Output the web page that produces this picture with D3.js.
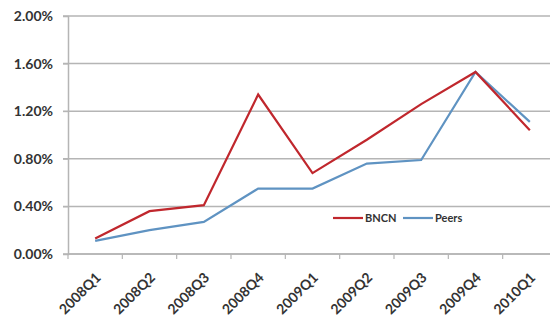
<!DOCTYPE html>
<html>
<head>
<meta charset="utf-8">
<script src="https://cdn.jsdelivr.net/npm/d3@7/dist/d3.min.js"></script>
<style>
  html, body { margin: 0; padding: 0; background: #fff; }
  svg { display: block; }
  text { font-family: Lato, "Open Sans", sans-serif; font-weight: bold; fill: #333; }
</style>
</head>
<body>
<svg id="chart" width="550" height="331"></svg>
<script>
// Quarterly ratios (%) for BNCN and its peer group
const quarters = ["2008Q1","2008Q2","2008Q3","2008Q4","2009Q1","2009Q2","2009Q3","2009Q4","2010Q1"];
const bncn  = [0.13, 0.36, 0.41, 1.34, 0.68, 0.96, 1.26, 1.53, 1.04];
const peers = [0.11, 0.20, 0.27, 0.55, 0.55, 0.76, 0.79, 1.53, 1.11];
const yTicks = [0, 0.4, 0.8, 1.2, 1.6, 2.0];

const svg = d3.select("#chart");
const plot = { left: 68, top: 16, bottom: 254, right: 557 };

const x = d3.scaleBand().domain(quarters).range([plot.left, plot.right]);
const y = d3.scaleLinear().domain([0, 2]).range([plot.bottom, plot.top]);

// horizontal gridlines
svg.append("g").selectAll("line").data(yTicks).join("line")
  .attr("x1", plot.left - 5).attr("x2", 550)
  .attr("y1", d => y(d)).attr("y2", d => y(d))
  .attr("stroke", "#b5b5b5").attr("stroke-width", 1.5);

// y axis
const yAxis = svg.append("g").attr("transform", `translate(${plot.left},0)`)
  .call(d3.axisLeft(y).tickValues(yTicks).tickFormat(d => d.toFixed(2) + "%").tickSize(5).tickPadding(10));
yAxis.select(".domain").attr("stroke", "#b5b5b5").attr("stroke-width", 1.5);
yAxis.selectAll(".tick line").attr("stroke", "#b5b5b5");
yAxis.selectAll("text").style("font-size", "14px").attr("fill", "#333");

// x axis with ticks at category boundaries
const xAxis = svg.append("g").attr("transform", `translate(0,${plot.bottom})`);
xAxis.append("line").attr("x1", plot.left).attr("x2", 550).attr("y1", 0).attr("y2", 0)
  .attr("stroke", "#b5b5b5").attr("stroke-width", 1.5);
const boundaries = quarters.map(q => x(q)).concat([x(quarters[quarters.length - 1]) + x.bandwidth()]);
xAxis.selectAll("line.tk").data(boundaries).join("line").attr("class", "tk")
  .attr("x1", d => d).attr("x2", d => d).attr("y1", 0).attr("y2", 5)
  .attr("stroke", "#b5b5b5").attr("stroke-width", 1.2);
xAxis.selectAll("text").data(quarters).join("text")
  .attr("transform", d => `translate(${x(d) + x.bandwidth() / 2 + 3},${21}) rotate(-45)`)
  .attr("text-anchor", "end")
  .attr("dy", "0.35em")
  .style("font-size", "14px")
  .text(d => d);

// series lines
const line = d3.line().x((d, i) => x(quarters[i]) + x.bandwidth() / 2).y(d => y(d));
svg.append("path").datum(peers).attr("d", line)
  .attr("fill", "none").attr("stroke", "#5f93c2").attr("stroke-width", 2.2);
svg.append("path").datum(bncn).attr("d", line)
  .attr("fill", "none").attr("stroke", "#c0272d").attr("stroke-width", 2.2);

// legend
const legend = svg.append("g").attr("transform", "translate(333,218)");
const items = [{name: "BNCN", color: "#c0272d", dx: 0}, {name: "Peers", color: "#5f93c2", dx: 70}];
items.forEach(it => {
  const g = legend.append("g").attr("transform", `translate(${it.dx},0)`);
  g.append("line").attr("x1", 0).attr("x2", 30).attr("y1", 0).attr("y2", 0)
    .attr("stroke", it.color).attr("stroke-width", 2.2);
  g.append("text").attr("x", 32).attr("y", 0).attr("dy", "0.35em")
    .style("font-size", "11px").text(it.name);
});
</script>
</body>
</html>
